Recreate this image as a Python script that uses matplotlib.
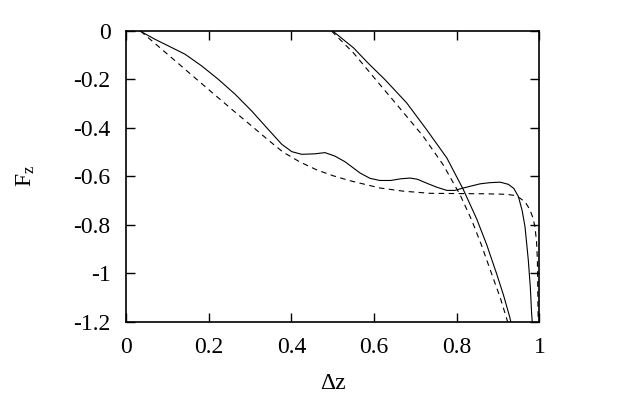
import numpy as np
import matplotlib
matplotlib.use('Agg')
import matplotlib.pyplot as plt

plt.rcParams['font.family'] = ['Liberation Serif', 'DejaVu Serif']
plt.rcParams['mathtext.fontset'] = 'custom'
plt.rcParams['mathtext.rm'] = 'Liberation Serif'
plt.rcParams['mathtext.it'] = 'Liberation Serif:italic'
plt.rcParams['axes.unicode_minus'] = False

# solid curve, left branch
solid_a_x = [0.034, 0.07, 0.102, 0.143, 0.183, 0.223, 0.264, 0.304, 0.344, 0.377,
             0.401, 0.425, 0.457, 0.481, 0.505, 0.53, 0.566, 0.59, 0.614, 0.64,
             0.665, 0.687, 0.705, 0.727, 0.752, 0.776, 0.795, 0.816, 0.856, 0.88,
             0.905, 0.925, 0.938, 0.949, 0.958, 0.965, 0.973, 0.978, 0.981, 0.983]
solid_a_y = [0.0, -0.034, -0.061, -0.096, -0.144, -0.199, -0.261, -0.33, -0.406, -0.468,
             -0.498, -0.509, -0.507, -0.502, -0.516, -0.54, -0.586, -0.608, -0.617, -0.617,
             -0.61, -0.607, -0.612, -0.628, -0.645, -0.658, -0.658, -0.648, -0.631, -0.626,
             -0.624, -0.633, -0.65, -0.683, -0.74, -0.807, -0.945, -1.06, -1.165, -1.21]

# dashed curve, left branch
dash_b_x = [0.035, 0.102, 0.183, 0.264, 0.304, 0.344, 0.38, 0.42, 0.461, 0.5,
            0.542, 0.614, 0.67, 0.735, 0.8, 0.869, 0.92, 0.941, 0.953, 0.966,
            0.977, 0.984, 0.989, 0.993, 0.995, 0.997]
dash_b_y = [0.0, -0.098, -0.217, -0.335, -0.392, -0.45, -0.5, -0.54, -0.573, -0.597,
            -0.618, -0.648, -0.661, -0.67, -0.671, -0.672, -0.674, -0.679, -0.69, -0.707,
            -0.738, -0.77, -0.807, -0.87, -0.945, -1.21]

# solid curve, right branch
solid_c_x = [0.5, 0.55, 0.587, 0.626, 0.679, 0.727, 0.776, 0.816, 0.848, 0.872,
             0.896, 0.913, 0.928, 0.932]
solid_c_y = [0.0, -0.069, -0.135, -0.2, -0.297, -0.407, -0.524, -0.655, -0.775, -0.88,
             -1.0, -1.09, -1.18, -1.21]

# dashed curve, right branch
dash_d_x = [0.497, 0.55, 0.614, 0.662, 0.719, 0.767, 0.808, 0.836, 0.86, 0.888,
            0.905, 0.923, 0.925]
dash_d_y = [0.0, -0.09, -0.221, -0.318, -0.435, -0.552, -0.676, -0.78, -0.885, -1.02,
            -1.1, -1.2, -1.21]

x_ticks = [0, 0.2, 0.4, 0.6, 0.8, 1]
x_labels = ['0', '0.2', '0.4', '0.6', '0.8', '1']
y_ticks = [0, -0.2, -0.4, -0.6, -0.8, -1, -1.2]
y_labels = ['0', '-0.2', '-0.4', '-0.6', '-0.8', '-1', '-1.2']

fig = plt.figure(figsize=(6.23, 3.96), dpi=100)
ax = fig.add_axes([0.2022, 0.1876, 0.6637, 0.7341])

ax.plot(solid_a_x, solid_a_y, color='black', lw=0.8)
ax.plot(dash_b_x, dash_b_y, color='black', lw=0.8, dashes=(5, 4))
ax.plot(solid_c_x, solid_c_y, color='black', lw=0.8)
ax.plot(dash_d_x, dash_d_y, color='black', lw=0.8, dashes=(5, 4))

ax.set_xlim(0, 1)
ax.set_ylim(-1.2, 0)
ax.set_xticks(x_ticks)
ax.set_xticklabels(x_labels)
ax.set_yticks(y_ticks)
ax.set_yticklabels(y_labels)
ax.tick_params(direction='in', length=6.5, width=1.0, top=True, right=True,
               labelsize=17, pad=11)
for sp in ax.spines.values():
    sp.set_linewidth(1.2)

ax.set_xlabel('Δz', fontsize=17)
ax.set_ylabel(r'F$_{\mathrm{z}}$', fontsize=17)
ax.xaxis.set_label_coords(0.5, -0.176)
ax.yaxis.set_label_coords(-0.215, 0.5)

fig.savefig('out.png', dpi=100)
plt.close(fig)
